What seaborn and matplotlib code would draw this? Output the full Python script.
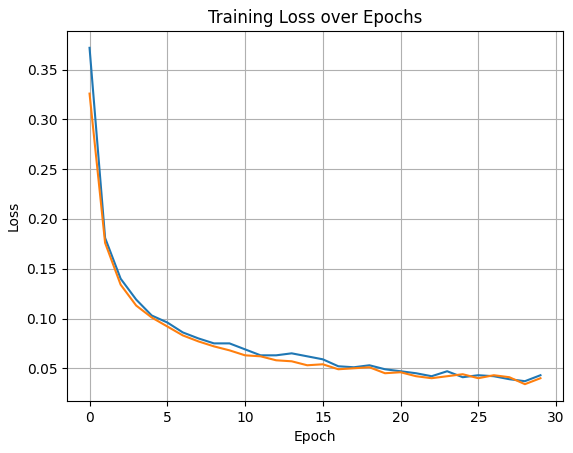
import pandas as pd
import numpy as np
import matplotlib
matplotlib.use("Agg")
import matplotlib.pyplot as plt
import seaborn as sns

# values
epochs = list(range(30))
train_loss = [0.372, 0.181, 0.140, 0.119, 0.103, 0.096, 0.086, 0.080, 0.075, 0.075,
              0.069, 0.063, 0.063, 0.065, 0.062, 0.059, 0.052, 0.051, 0.053, 0.049,
              0.047, 0.045, 0.042, 0.047, 0.041, 0.043, 0.042, 0.039, 0.037, 0.043]
val_loss = [0.326, 0.176, 0.134, 0.113, 0.101, 0.092, 0.083, 0.077, 0.072, 0.068,
            0.063, 0.062, 0.058, 0.057, 0.053, 0.054, 0.049, 0.050, 0.051, 0.045,
            0.046, 0.042, 0.040, 0.042, 0.044, 0.040, 0.043, 0.041, 0.034, 0.040]

df = pd.DataFrame({
    "Epoch": epochs * 2,
    "Loss": train_loss + val_loss,
    "series": ["train"] * 30 + ["val"] * 30,
})

fig = plt.figure(figsize=(5.73, 4.53), dpi=100)
ax = fig.add_axes([67 / 573, 1 - 401 / 453, 496 / 573, 370 / 453])

sns.lineplot(data=df, x="Epoch", y="Loss", hue="series",
             palette=["#1f77b4", "#ff7f0e"], legend=False, ax=ax)

ax.set_title("Training Loss over Epochs")
ax.set_xlabel("Epoch")
ax.set_ylabel("Loss")
ax.grid(True)

fig.savefig("out.png", dpi=100)
